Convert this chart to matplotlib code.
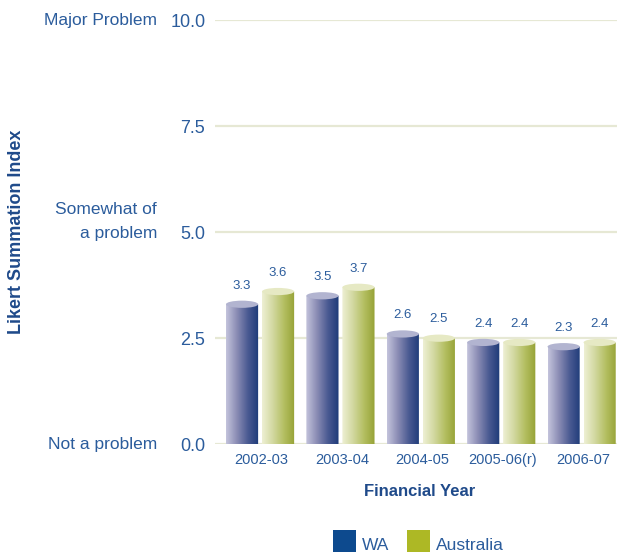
import numpy as np
import matplotlib.pyplot as plt
from matplotlib.path import Path
from matplotlib.patches import PathPatch, Ellipse, Rectangle
from matplotlib.colors import LinearSegmentedColormap
from matplotlib.transforms import blended_transform_factory

plt.rcParams['font.family'] = ['Liberation Sans', 'DejaVu Sans']

years = ['2002-03', '2003-04', '2004-05', '2005-06(r)', '2006-07']
wa = [3.3, 3.5, 2.6, 2.4, 2.3]
australia = [3.6, 3.7, 2.5, 2.4, 2.4]
yticks = [0.0, 2.5, 5.0, 7.5, 10.0]
scale_labels = {0.0: 'Not a problem', 5.0: 'Somewhat of\na problem', 10.0: 'Major Problem'}

txt = '#2b5c9c'
wa_cmap = LinearSegmentedColormap.from_list('wa', ['#c4c4dc', '#8a8cb4', '#4a5a92', '#1d3a78'])
au_cmap = LinearSegmentedColormap.from_list('au', ['#eef0d4', '#d2d8a0', '#b4bf62', '#96a236'])
wa_top = '#b2b4d0'
au_top = '#e6e9c4'

fig = plt.figure(figsize=(6.17, 5.56), dpi=100)
ax = fig.add_axes([0.3485, 0.201, 0.6515, 0.763])

for y in yticks:
    ax.axhline(y, color='#e6e8d4', lw=1.6, zorder=0)

bw = 0.40
off = 0.224
eh = 0.17  # ellipse height in data units


def cylinder(xc, h, cmap, topc):
    x0, x1 = xc - bw / 2, xc + bw / 2
    t = np.linspace(np.pi, 2 * np.pi, 30)
    verts = [(x0, h), (x0, 0)] + [(xc + np.cos(a) * bw / 2, np.sin(a) * eh / 2) for a in t] + [(x1, h), (x0, h)]
    codes = [Path.MOVETO] + [Path.LINETO] * (len(verts) - 2) + [Path.CLOSEPOLY]
    patch = PathPatch(Path(verts, codes), facecolor='none', edgecolor='none')
    ax.add_patch(patch)
    grad = np.linspace(0, 1, 256).reshape(1, -1)
    im = ax.imshow(grad, cmap=cmap, aspect='auto', extent=[x0, x1, -eh, h], zorder=2)
    im.set_clip_path(patch)
    ax.add_patch(Ellipse((xc, h), bw, eh, facecolor=topc, edgecolor='none', zorder=3))


x = np.arange(len(years))
for i in range(len(years)):
    cylinder(x[i] - off, wa[i], wa_cmap, wa_top)
    cylinder(x[i] + off, australia[i], au_cmap, au_top)
    ax.text(x[i] - off, wa[i] + 0.3, f'{wa[i]:.1f}', ha='center', va='bottom', color=txt, fontsize=9.5)
    ax.text(x[i] + off, australia[i] + 0.3, f'{australia[i]:.1f}', ha='center', va='bottom', color=txt, fontsize=9.5)

ax.set_xlim(-0.56, 4.44)
ax.set_ylim(0, 10)

ax.set_xticks(x + 0.02)
ax.set_xticklabels(years, color=txt, fontsize=10.5)
ax.set_yticks(yticks)
ax.set_yticklabels([f'{v:.1f}' for v in yticks], color=txt, fontsize=13)
ax.tick_params(length=0, pad=7)
ax.tick_params(axis='x', pad=6)
for s in ax.spines.values():
    s.set_visible(False)

# verbal scale to the left of the numeric ticks
trans = blended_transform_factory(ax.transAxes, ax.transData)
for v, lab in scale_labels.items():
    if '\n' in lab:
        ax.text(-0.144, v - 0.2, lab, transform=trans, ha='right', va='bottom',
                color=txt, fontsize=12.5, linespacing=1.7)
    else:
        ax.text(-0.144, v, lab, transform=trans, ha='right', va='center', color=txt, fontsize=12.5)

fig.text(420 / 617, 1 - 492 / 556, 'Financial Year', ha='center', va='center',
         color='#1f4a8a', fontsize=12, fontweight='bold')
fig.text(0.026, 0.583, 'Likert Summation Index', rotation=90, ha='center', va='center',
         color='#1f4a8a', fontsize=13, fontweight='bold')

# legend along the bottom edge
fig.patches.append(Rectangle((333 / 617, 1 - 552 / 556), 23 / 617, 22 / 556, transform=fig.transFigure,
                             facecolor='#0d4a8e', edgecolor='none'))
fig.text(362 / 617, 1 - 545 / 556, 'WA', color=txt, fontsize=12.5, va='center')
fig.patches.append(Rectangle((407 / 617, 1 - 552 / 556), 23 / 617, 22 / 556, transform=fig.transFigure,
                             facecolor='#adb825', edgecolor='none'))
fig.text(436 / 617, 1 - 545 / 556, 'Australia', color=txt, fontsize=12.5, va='center')

fig.savefig('out.png', dpi=100)
